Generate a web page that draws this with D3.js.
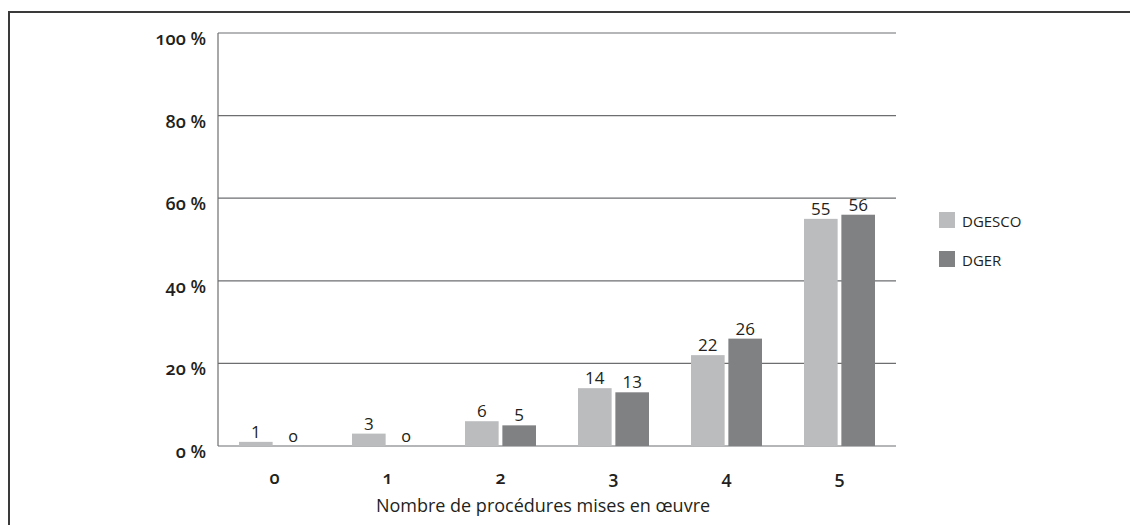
<!DOCTYPE html>
<html>
<head>
<meta charset="utf-8">
<script src="https://cdn.jsdelivr.net/npm/d3@7"></script>
<style>
body { margin: 0; background: #fff; }
text { font-family: "Open Sans", sans-serif; fill: #231f20; }
.ytick { font-weight: 600; font-size: 18px; font-variant-numeric: oldstyle-nums; }
.xtick { font-weight: 600; font-size: 18px; font-variant-numeric: oldstyle-nums; }
.val { font-size: 17px; font-weight: 500; }
.title { font-size: 18px; }
.leg { font-size: 15px; }
</style>
</head>
<body>
<svg id="svg"></svg>
<script>
var width = 1130, height = 525;
var svg = d3.select("#svg")
	.attr("width", width)
	.attr("height", height);

var categories = ["0", "1", "2", "3", "4", "5"];
var series = ["DGESCO", "DGER"];
var dgesco = [1, 3, 6, 14, 22, 55];
var dger = [0, 0, 5, 13, 26, 56];
var yTicks = [0, 20, 40, 60, 80, 100];

var color = d3.scaleOrdinal()
	.domain(series)
	.range(["#bbbcbe", "#808183"]);

// outer frame
svg.append("path")
	.attr("d", "M9,525 V12 H1130")
	.attr("fill", "none")
	.attr("stroke", "#3a3a3a")
	.attr("stroke-width", 2);

var x = d3.scaleBand()
	.domain(categories)
	.range([218, 896]);
var y = d3.scaleLinear()
	.domain([0, 100])
	.range([446, 33]);
var x1 = d3.scaleBand()
	.domain(series)
	.range([0, 71])
	.paddingInner(0.1);

// gridlines
svg.append("g")
	.selectAll("line")
	.data(yTicks)
	.enter()
	.append("line")
	.attr("x1", 218)
	.attr("x2", 896)
	.attr("y1", function(d) { return y(d); })
	.attr("y2", function(d) { return y(d); })
	.attr("stroke", "#6d6e70")
	.attr("stroke-width", 1.2);

svg.append("line")
	.attr("x1", 218).attr("x2", 218)
	.attr("y1", y(100)).attr("y2", y(0))
	.attr("stroke", "#6d6e70")
	.attr("stroke-width", 1.2);

var rows = categories.map(function(c, i) {
	return [{ cat: c, s: "DGESCO", v: dgesco[i] }, { cat: c, s: "DGER", v: dger[i] }];
});

var group = svg.selectAll("g.cat")
	.data(rows)
	.enter()
	.append("g")
	.attr("class", "cat")
	.attr("transform", function(d) { return "translate(" + (x(d[0].cat) + (x.bandwidth() - 71) / 2) + ",0)"; });

group.selectAll("rect")
	.data(function(d) { return d; })
	.enter()
	.append("rect")
	.attr("x", function(d) { return x1(d.s); })
	.attr("y", function(d) { return y(d.v); })
	.attr("width", x1.bandwidth())
	.attr("height", function(d) { return y(0) - y(d.v); })
	.style("fill", function(d) { return color(d.s); });

group.selectAll("text")
	.data(function(d) { return d; })
	.enter()
	.append("text")
	.attr("class", "val")
	.attr("x", function(d) { return x1(d.s) + x1.bandwidth() / 2; })
	.attr("y", function(d) { return y(d.v) - 4; })
	.attr("text-anchor", "middle")
	.style("font-variant-numeric", function(d) { return d.v === 0 ? "oldstyle-nums" : null; })
	.text(function(d) { return d.v; });

// y labels
svg.append("g")
	.selectAll("text")
	.data(yTicks)
	.enter()
	.append("text")
	.attr("class", "ytick")
	.attr("x", 206)
	.attr("y", function(d) { return y(d) + 12; })
	.attr("text-anchor", "end")
	.text(function(d) { return d + " %"; });

// x labels
svg.append("g")
	.selectAll("text")
	.data(categories)
	.enter()
	.append("text")
	.attr("class", "xtick")
	.attr("x", function(d) { return x(d) + x.bandwidth() / 2; })
	.attr("y", 484)
	.attr("text-anchor", "middle")
	.text(function(d) { return d; });

svg.append("text")
	.attr("class", "title")
	.attr("x", 543)
	.attr("y", 512)
	.attr("text-anchor", "middle")
	.text("Nombre de procédures mises en œuvre");

// legend
var legend = svg.selectAll("g.leg")
	.data(series)
	.enter()
	.append("g")
	.attr("transform", function(d, i) { return "translate(939," + (212 + i * 39) + ")"; });
legend.append("rect")
	.attr("width", 16)
	.attr("height", 16)
	.style("fill", function(d) { return color(d); });
legend.append("text")
	.attr("class", "leg")
	.attr("x", 23)
	.attr("y", 15)
	.text(function(d) { return d; });
</script>
</body>
</html>
